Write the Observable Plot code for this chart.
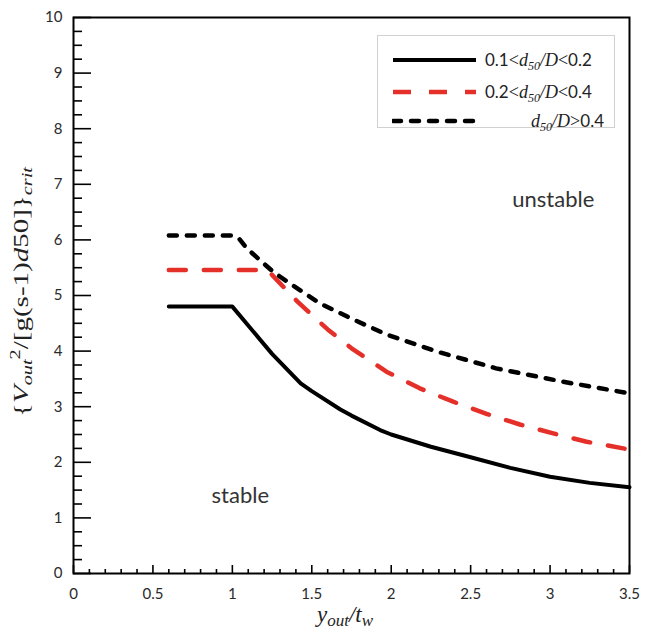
<!DOCTYPE html>
<html>
<head>
<meta charset="utf-8">
<script src="https://cdn.jsdelivr.net/npm/d3@7"></script>
<script src="https://cdn.jsdelivr.net/npm/@observablehq/plot@0.6"></script>
<style>
  body { margin: 0; background: #fff; }
  #wrap { position: relative; width: 655px; height: 633px; }
  #legend { position: absolute; left: 377px; top: 35px; width: 238px; height: 93px;
            border: 1.5px solid #d0d0d0; background: #fff; box-sizing: border-box;
            font-family: Lato, "Open Sans", sans-serif; font-size: 17px; color: #222; }
  .row { position: absolute; left: 0; width: 100%; height: 24px; }
  .row svg { position: absolute; left: 14px; top: 0; }
  .lab { position: absolute; top: 1px; white-space: nowrap; }
  .it { font-family: "Liberation Serif", serif; font-style: italic; font-size: 18px; }
  .sr { font-family: "Liberation Serif", serif; font-size: 18px; }
  .sub { font-family: "Liberation Serif", serif; font-style: italic; font-size: 12px; position: relative; top: 4px; }
</style>
</head>
<body>
<div id="wrap"></div>
<script>
// ---- data ----
const xTicks = [0, 0.5, 1, 1.5, 2, 2.5, 3, 3.5];
const xMinorTicks = [0.1,0.2,0.3,0.4,0.6,0.7,0.8,0.9,1.1,1.2,1.3,1.4,1.6,1.7,1.8,1.9,2.1,2.2,2.3,2.4,2.6,2.7,2.8,2.9,3.1,3.2,3.3,3.4];
const yTicks = [0,1,2,3,4,5,6,7,8,9,10];
const yMinorTicks = [0.25,0.5,0.75,1.25,1.5,1.75,2.25,2.5,2.75,3.25,3.5,3.75,4.25,4.5,4.75,5.25,5.5,5.75,6.25,6.5,6.75,7.25,7.5,7.75,8.25,8.5,8.75,9.25,9.5,9.75];

const solidX = [0.6, 1.0, 1.25, 1.43, 1.5, 1.68, 1.75, 1.93, 2.0, 2.25, 2.5, 2.75, 3.0, 3.25, 3.5];
const solidY = [4.8, 4.8, 3.95, 3.42, 3.28, 2.95, 2.84, 2.58, 2.50, 2.28, 2.09, 1.90, 1.74, 1.63, 1.55];

const dashX = [0.6, 1.22, 1.41, 1.6, 1.76, 1.97, 2.18, 2.39, 2.6, 2.81, 3.02, 3.23, 3.5];
const dashY = [5.46, 5.46, 4.89, 4.39, 4.03, 3.63, 3.33, 3.09, 2.87, 2.68, 2.52, 2.37, 2.23];

const dotX = [0.6, 1.0, 1.04, 1.09, 1.18, 1.26, 1.36, 1.55, 1.76, 1.97, 2.29, 2.66, 3.08, 3.5];
const dotY = [6.08, 6.08, 6.03, 5.85, 5.62, 5.42, 5.22, 4.86, 4.57, 4.30, 3.99, 3.69, 3.45, 3.24];

const annotations = [
  {label: "unstable", x: 3.02, y: 6.72},
  {label: "stable", x: 1.05, y: 1.39}
];

const solid = solidX.map((x, i) => ({x, y: solidY[i]}));
const dashed = dashX.map((x, i) => ({x, y: dashY[i]}));
const dotted = dotX.map((x, i) => ({x, y: dotY[i]}));

const W = 655, H = 633, mL = 73, mR = 26, mT = 17, mB = 60;
const pw = W - mL - mR, ph = H - mT - mB;

const chart = Plot.plot({
  width: W, height: H,
  marginLeft: mL, marginRight: mR, marginTop: mT, marginBottom: mB,
  x: {domain: [0, 3.5]},
  y: {domain: [0, 10]},
  style: {fontFamily: "Lato, 'Open Sans', sans-serif", fontSize: "15px", color: "#2a2a2a", background: "#fff"},
  marks: [
    Plot.tickX(xMinorTicks, {x: d => d, insetTop: ph - 4, stroke: "#000", strokeWidth: 1.6}),
    Plot.tickX(xTicks, {x: d => d, insetTop: ph - 8, stroke: "#000", strokeWidth: 1.6}),
    Plot.tickY(yMinorTicks, {y: d => d, insetRight: pw - 9, stroke: "#000", strokeWidth: 1.6}),
    Plot.tickY(yTicks, {y: d => d, insetRight: pw - 18, stroke: "#000", strokeWidth: 1.6}),
    Plot.axisX({ticks: xTicks, tickSize: 0, tickPadding: 15, tickFormat: d => String(d), label: null}),
    Plot.axisY({ticks: yTicks, tickSize: 0, tickPadding: 11, tickFormat: d => String(d), label: null}),
    Plot.line(solid, {x: "x", y: "y", stroke: "#000", strokeWidth: 4}),
    Plot.line(dashed, {x: "x", y: "y", stroke: "#e5302a", strokeWidth: 4.5, strokeDasharray: "17,18"}),
    Plot.line(dotted, {x: "x", y: "y", stroke: "#000", strokeWidth: 4.5, strokeDasharray: "8,10", strokeLinecap: "round"}),
    Plot.text(annotations, {x: "x", y: "y", text: "label", fontSize: 22, fill: "#333"}),
    Plot.frame({stroke: "#000", strokeWidth: 2})
  ]
});

const wrap = document.getElementById("wrap");
wrap.appendChild(chart);

const svg = d3.select(chart);
// y-axis title
const yt = svg.append("text")
  .attr("transform", "translate(28,292) rotate(-90)")
  .attr("text-anchor", "middle")
  .attr("font-family", "'Liberation Serif', serif")
  .attr("font-size", 20)
  .attr("textLength", 250)
  .attr("lengthAdjust", "spacingAndGlyphs")
  .attr("fill", "#222");
yt.append("tspan").text("{");
yt.append("tspan").attr("font-style", "italic").text("V");
yt.append("tspan").attr("font-style", "italic").attr("font-size", 14).attr("dy", 4).text("out");
yt.append("tspan").attr("font-size", 14).attr("dy", -12).text("2");
yt.append("tspan").attr("dy", 8).text("/[g(s-1)");
yt.append("tspan").attr("font-style", "italic").text("d");
yt.append("tspan").text("50]}");
yt.append("tspan").attr("font-style", "italic").attr("font-size", 14).attr("dy", 4).text("crit");

// x-axis title
const xt = svg.append("text")
  .attr("x", 345).attr("y", 622)
  .attr("text-anchor", "middle")
  .attr("font-family", "'Liberation Serif', serif")
  .attr("font-style", "italic")
  .attr("font-size", 23)
  .attr("fill", "#222");
xt.append("tspan").text("y");
xt.append("tspan").attr("font-size", 17).attr("dy", 4).text("out");
xt.append("tspan").attr("dy", -4).text("/t");
xt.append("tspan").attr("font-size", 17).attr("dy", 4).text("w");

// legend
const legendItems = [
  {pre: "0.1", op1: "<", op2: "<", post: "0.2", stroke: "#000", dash: null, cap: "butt", width: 4},
  {pre: "0.2", op1: "<", op2: "<", post: "0.4", stroke: "#e5302a", dash: "18,18", cap: "butt", width: 4.5},
  {pre: "", op1: "", op2: ">", post: "0.4", stroke: "#000", dash: "8,10", cap: "round", width: 4.5}
];
const legend = document.createElement("div");
legend.id = "legend";
const rowTops = [12, 44, 73];
legendItems.forEach((it, i) => {
  const row = document.createElement("div");
  row.className = "row";
  row.style.top = rowTops[i] + "px";
  row.innerHTML =
    `<svg width="86" height="24"><line x1="1" y1="12" x2="84" y2="12" stroke="${it.stroke}" stroke-width="${it.width}"` +
    (it.dash ? ` stroke-dasharray="${it.dash}"` : "") + ` stroke-linecap="${it.cap}"/></svg>` +
    `<span class="lab" style="${it.pre ? "left:107px" : "right:10px"}">${it.pre}<span class="sr">${it.op1}</span><span class="it">d</span><span class="sub">50</span><span class="it">/D</span>${it.op2 === "<" ? '<span class="sr">&lt;</span>' : '<span class="sr">&gt;</span>'}${it.post}</span>`;
  legend.appendChild(row);
});
wrap.appendChild(legend);
</script>
</body>
</html>
